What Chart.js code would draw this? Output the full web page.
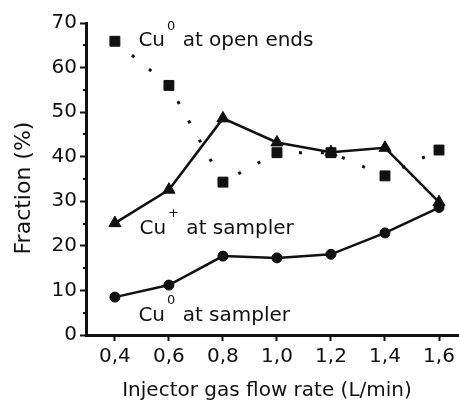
<!DOCTYPE html>
<html>
<head>
<meta charset="utf-8">
<script src="https://cdn.jsdelivr.net/npm/chart.js@4.4.1/dist/chart.umd.min.js"></script>
<style>
  html, body { margin: 0; padding: 0; background: #fff; overflow: hidden; }
  #wrap { width: 459px; height: 404px; position: relative; }
</style>
</head>
<body>
<div id="wrap"><canvas id="c"></canvas></div>
<script>
// ---- data ----
const flowRates = [0.4, 0.6, 0.8, 1.0, 1.2, 1.4, 1.6];
const cu0OpenEnds = [65.9, 56.0, 34.3, 40.9, 40.9, 35.7, 41.5];
const cuPlusSampler = [25.1, 32.6, 48.6, 43.2, 41.0, 42.0, 29.8];
const cu0Sampler = [8.5, 11.2, 17.7, 17.3, 18.1, 22.9, 28.6];
const xTickValues = [0.4, 0.6, 0.8, 1.0, 1.2, 1.4, 1.6];
const yTickValues = [0, 10, 20, 30, 40, 50, 60, 70];
const seriesLabels = ['Cu0 at open ends', 'Cu+ at sampler', 'Cu0 at sampler'];
const xTitle = 'Injector gas flow rate (L/min)';
const yTitle = 'Fraction (%)';
// annotation labels: [main, superscript, rest, anchorX, anchorY(data)]
const annotations = [
  ['Cu', '0', ' at open ends', 0.487, 65.9],
  ['Cu', '+', ' at sampler', 0.491, 23.8],
  ['Cu', '0', ' at sampler', 0.487, 4.3]
];

const pts = arr => arr.map((v, i) => ({ x: flowRates[i], y: v }));
const FONT = "'DejaVu Sans', sans-serif";

const annotPlugin = {
  id: 'annot',
  afterDraw(chart) {
    const ctx = chart.ctx;
    const xs = chart.scales.x, ys = chart.scales.y;
    ctx.save();
    ctx.fillStyle = '#111';
    ctx.textBaseline = 'middle';
    ctx.textAlign = 'left';
    annotations.forEach(a => {
      const px = xs.getPixelForValue(a[3]);
      const py = ys.getPixelForValue(a[4]);
      ctx.font = '20px ' + FONT;
      ctx.fillText(a[0], px, py);
      let w = ctx.measureText(a[0]).width;
      ctx.font = '13px ' + FONT;
      ctx.fillText(a[1], px + w + 2, py - 15);
      const sw = ctx.measureText(a[1]).width;
      ctx.font = '20px ' + FONT;
      ctx.fillText(a[2], px + w + sw + 3, py);
    });
    // minor ticks on y axis
    ctx.strokeStyle = '#111';
    ctx.lineWidth = 2;
    for (let i = 0; i < yTickValues.length - 1; i++) {
      const v = (yTickValues[i] + yTickValues[i + 1]) / 2;
      const py = Math.round(ys.getPixelForValue(v));
      ctx.beginPath();
      ctx.moveTo(ys.right - 3, py);
      ctx.lineTo(ys.right, py);
      ctx.stroke();
    }
    // axis titles
    ctx.font = '20px ' + FONT;
    ctx.textAlign = 'center';
    ctx.fillText(xTitle, 267, 391);
    ctx.translate(24, 188);
    ctx.rotate(-Math.PI / 2);
    ctx.font = '22px ' + FONT;
    ctx.fillText(yTitle, 0, 0);
    ctx.restore();
  }
};

new Chart(document.getElementById('c'), {
  type: 'line',
  data: {
    datasets: [
      {
        label: seriesLabels[0],
        data: pts(cu0OpenEnds),
        borderColor: '#111',
        backgroundColor: '#111',
        borderWidth: 3,
        borderDash: [3, 19],
        pointStyle: 'rect',
        pointRadius: 7,
        pointBorderWidth: 1,
        tension: 0
      },
      {
        label: seriesLabels[1],
        data: pts(cuPlusSampler),
        borderColor: '#111',
        backgroundColor: '#111',
        borderWidth: 2.5,
        pointStyle: 'triangle',
        pointRadius: 7,
        pointBorderWidth: 1,
        tension: 0
      },
      {
        label: seriesLabels[2],
        data: pts(cu0Sampler),
        borderColor: '#111',
        backgroundColor: '#111',
        borderWidth: 2.5,
        pointStyle: 'circle',
        pointRadius: 5,
        pointBorderWidth: 1,
        tension: 0
      }
    ]
  },
  options: {
    responsive: true,
    maintainAspectRatio: false,
    animation: false,
    devicePixelRatio: 1,
    clip: false,
    layout: { autoPadding: false, padding: { top: 23, left: 0, right: 0, bottom: 0 } },
    plugins: { legend: { display: false }, tooltip: { enabled: false } },
    scales: {
      x: {
        type: 'linear',
        min: 0.293,
        max: 1.674,
        afterBuildTicks: s => { s.ticks = xTickValues.map(v => ({ value: v })); },
        afterFit: s => { s.height = 69; },
        ticks: {
          color: '#111',
          font: { family: FONT, size: 20 },
          padding: 4,
          maxRotation: 0,
          callback: v => v.toFixed(1).replace('.', ',')
        },
        grid: { display: true, drawOnChartArea: false, drawTicks: true, tickLength: 6, tickWidth: 2, tickColor: '#111' },
        border: { display: true, color: '#111', width: 3 }
      },
      y: {
        type: 'linear',
        min: 0,
        max: 70,
        afterBuildTicks: s => { s.ticks = yTickValues.map(v => ({ value: v })); },
        afterFit: s => { s.width = 86; },
        ticks: {
          color: '#111',
          font: { family: FONT, size: 20 },
          padding: 3
        },
        grid: { display: true, drawOnChartArea: false, drawTicks: true, tickLength: 6, tickWidth: 2, tickColor: '#111' },
        border: { display: true, color: '#111', width: 3 }
      }
    }
  },
  plugins: [annotPlugin]
});
</script>
</body>
</html>
